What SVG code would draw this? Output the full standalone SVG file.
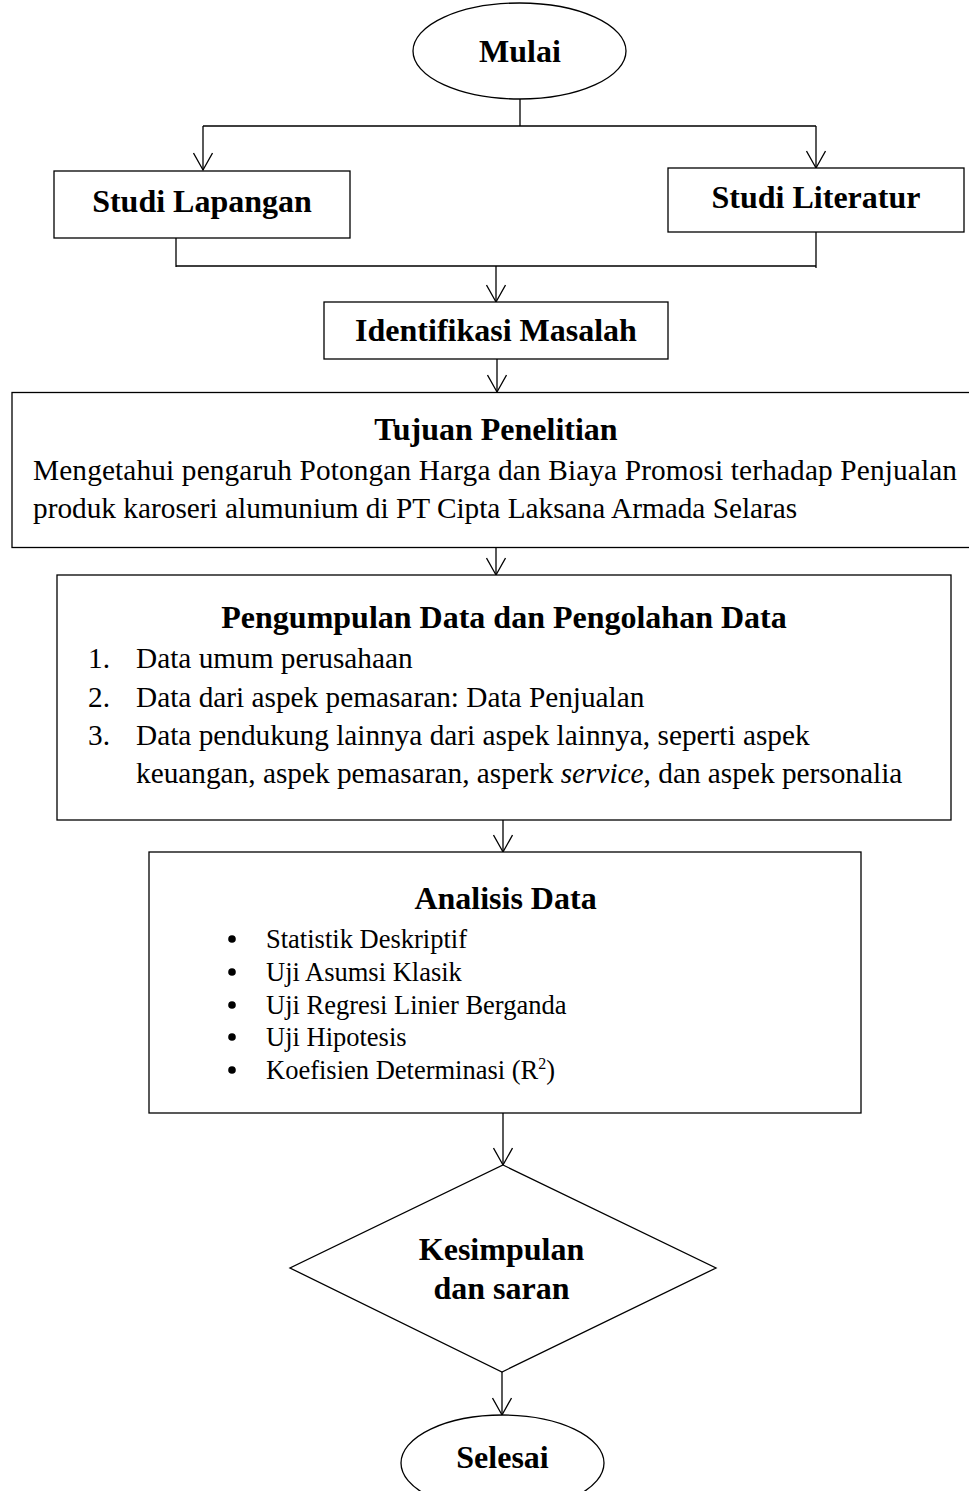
<svg xmlns="http://www.w3.org/2000/svg" width="969" height="1491" viewBox="0 0 969 1491">
<style>
.shape{fill:#fff;stroke:#000;stroke-width:1.3}
.ln{fill:none;stroke:#000;stroke-width:1.3}
.t{font-family:"Liberation Serif","Times New Roman",serif;fill:#000}
.b{font-weight:bold;font-size:32px;text-anchor:middle}
.r{font-size:29.3px}
.s{font-size:26.5px}
</style>
<defs>
<marker id="arr" markerWidth="22" markerHeight="20" refX="18" refY="10" orient="auto" markerUnits="userSpaceOnUse">
<path d="M1,0.5 L18,10 L1,19.5" fill="none" stroke="#000" stroke-width="1.3"/>
</marker>
</defs>
<rect width="969" height="1491" fill="#fff"/>
<g id="connectors">
<path class="ln" d="M520,99 V126 M203,126 H816"/>
<path class="ln" d="M203,126 V170" marker-end="url(#arr)"/>
<path class="ln" d="M816,126 V168" marker-end="url(#arr)"/>
<path class="ln" d="M176,238 V267 M176,266 H816 M816,232 V268"/>
<path class="ln" d="M496,266 V302" marker-end="url(#arr)"/>
<path class="ln" d="M497,359 V392" marker-end="url(#arr)"/>
<path class="ln" d="M496,548 V575" marker-end="url(#arr)"/>
<path class="ln" d="M503,820 V852" marker-end="url(#arr)"/>
<path class="ln" d="M503,1113 V1165" marker-end="url(#arr)"/>
<path class="ln" d="M502,1372 V1415" marker-end="url(#arr)"/>
</g>
<g id="mulai">
<ellipse class="shape" cx="519.5" cy="51" rx="106.5" ry="48"/>
<text class="t b" x="520" y="62">Mulai</text>
</g>
<g id="studi-lapangan">
<rect class="shape" x="54" y="171" width="296" height="67"/>
<text class="t b" x="202" y="212">Studi Lapangan</text>
</g>
<g id="studi-literatur">
<rect class="shape" x="668" y="168" width="296" height="64"/>
<text class="t b" x="816" y="208">Studi Literatur</text>
</g>
<g id="identifikasi">
<rect class="shape" x="324" y="302" width="344" height="57"/>
<text class="t b" x="496" y="341">Identifikasi Masalah</text>
</g>
<g id="tujuan">
<rect class="shape" x="12" y="392.5" width="970" height="155"/>
<text class="t b" x="496" y="440">Tujuan Penelitian</text>
<text class="t r" x="33" y="480" textLength="924" lengthAdjust="spacing">Mengetahui pengaruh Potongan Harga dan Biaya Promosi terhadap Penjualan</text>
<text class="t r" x="33" y="518">produk karoseri alumunium di PT Cipta Laksana Armada Selaras</text>
</g>
<g id="pengumpulan">
<rect class="shape" x="57" y="575" width="894" height="245"/>
<text class="t b" x="504" y="628">Pengumpulan Data dan Pengolahan Data</text>
<text class="t r" x="88" y="668">1.</text>
<text class="t r" x="136" y="668">Data umum perusahaan</text>
<text class="t r" x="88" y="707">2.</text>
<text class="t r" x="136" y="707">Data dari aspek pemasaran: Data Penjualan</text>
<text class="t r" x="88" y="745">3.</text>
<text class="t r" x="136" y="745">Data pendukung lainnya dari aspek lainnya, seperti aspek</text>
<text class="t r" x="136" y="783">keuangan, aspek pemasaran, asperk <tspan font-style="italic">service</tspan>, dan aspek personalia</text>
</g>
<g id="analisis">
<rect class="shape" x="149" y="852" width="712" height="261"/>
<text class="t b" x="505.5" y="909">Analisis Data</text>
<circle cx="232" cy="939" r="3.8"/>
<circle cx="232" cy="972" r="3.8"/>
<circle cx="232" cy="1005" r="3.8"/>
<circle cx="232" cy="1037" r="3.8"/>
<circle cx="232" cy="1070" r="3.8"/>
<text class="t s" x="266" y="948">Statistik Deskriptif</text>
<text class="t s" x="266" y="981">Uji Asumsi Klasik</text>
<text class="t s" x="266" y="1014">Uji Regresi Linier Berganda</text>
<text class="t s" x="266" y="1046">Uji Hipotesis</text>
<text class="t s" x="266" y="1079">Koefisien Determinasi (R<tspan dy="-10" font-size="16">2</tspan><tspan dy="10">)</tspan></text>
</g>
<g id="kesimpulan">
<polygon class="shape" points="503,1165 716,1268 502,1372 290,1268"/>
<text class="t b" x="501.5" y="1260">Kesimpulan</text>
<text class="t b" x="501.5" y="1299">dan saran</text>
</g>
<g id="selesai">
<ellipse class="shape" cx="502.5" cy="1463" rx="101.5" ry="48"/>
<text class="t b" x="502.5" y="1468">Selesai</text>
</g>
</svg>
